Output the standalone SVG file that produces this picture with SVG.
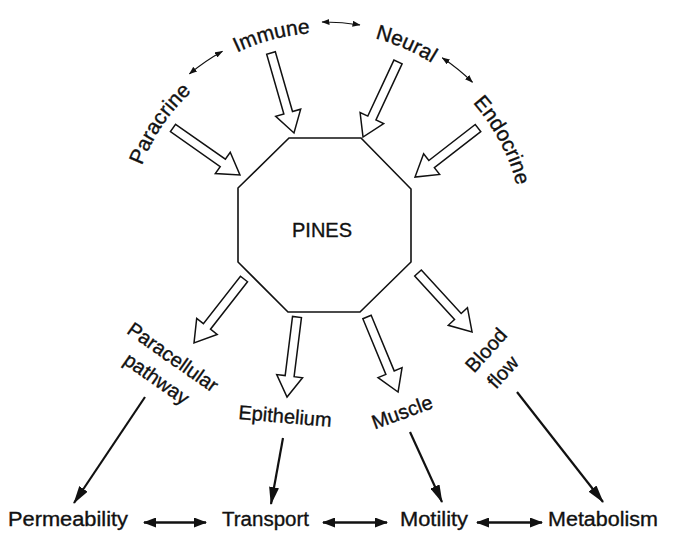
<svg xmlns="http://www.w3.org/2000/svg" width="675" height="536" viewBox="0 0 675 536">
<style>
text{font-family:"Liberation Sans",Arial,sans-serif;fill:#111;stroke:#111;stroke-width:0.35;}
.lbl{font-size:21px;}
.bot{font-size:20px;}
.blk{fill:#fff;stroke:#111;stroke-width:1.5;stroke-linejoin:miter;}
.ln{fill:none;stroke:#111;stroke-width:2.2;}
.dbl{fill:none;stroke:#111;stroke-width:2.6;}
.thin{fill:none;stroke:#111;stroke-width:1.2;}
</style>
<defs>
<marker id="ah" viewBox="0 0 18 10" refX="17" refY="5" markerWidth="18" markerHeight="10" markerUnits="userSpaceOnUse" orient="auto"><path d="M0,0 L18,5 L0,10 Z" fill="#111"/></marker>
<marker id="dh" viewBox="0 0 13 10" refX="12" refY="5" markerWidth="13" markerHeight="10" markerUnits="userSpaceOnUse" orient="auto-start-reverse"><path d="M0,0 L13,5 L0,10 Z" fill="#111"/></marker>
<marker id="sh" viewBox="0 0 8 6" refX="7.5" refY="3" markerWidth="8" markerHeight="6" markerUnits="userSpaceOnUse" orient="auto-start-reverse"><path d="M0,0 L8,3 L0,6 Z" fill="#111"/></marker>
<path id="pParacrine" d="M129,238.1 A195,195 0 0 1 254.4,52.8"/>
<path id="pImmune" d="M169.9,104.3 A202,202 0 0 1 394.1,45.5"/>
<path id="pNeural" d="M282.8,36.2 A203,203 0 0 1 496.7,128.3"/>
<path id="pEndocrine" d="M414.3,57.7 A199,199 0 0 1 521.5,259.3"/>
</defs>
<rect width="675" height="536" fill="#fff"/>

<g id="pines">
<polygon points="289,138 361,138 411,189 411,262 360,312 288,312 238,262 238,188" fill="#fff" stroke="#111" stroke-width="1.6"/>
<text x="322" y="237" font-size="20" text-anchor="middle">PINES</text>
</g>

<g id="paracrine"><text class="lbl" text-anchor="middle"><textPath href="#pParacrine" startOffset="50%">Paracrine</textPath></text></g>
<g id="immune"><text class="lbl" text-anchor="middle"><textPath href="#pImmune" startOffset="50%">Immune</textPath></text></g>
<g id="neural"><text class="lbl" text-anchor="middle"><textPath href="#pNeural" startOffset="50%">Neural</textPath></text></g>
<g id="endocrine"><text class="lbl" text-anchor="middle"><textPath href="#pEndocrine" startOffset="50%">Endocrine</textPath></text></g>

<g id="paracellular" transform="translate(173,357) rotate(35)">
<text class="bot" x="0" y="7" text-anchor="middle">Paracellular</text>
<text class="bot" x="-1" y="34" text-anchor="middle">pathway</text>
</g>
<g id="epithelium"><text class="bot" transform="translate(285,417) rotate(5)" x="0" y="6" text-anchor="middle">Epithelium</text></g>
<g id="muscle"><text class="bot" transform="translate(402,412) rotate(-20)" x="0" y="7" text-anchor="middle">Muscle</text></g>
<g id="bloodflow" transform="translate(486,350) rotate(-48)">
<text class="bot" x="0" y="7" text-anchor="middle">Blood</text>
<text class="bot" x="-5" y="34" text-anchor="middle">flow</text>
</g>

<g id="permeability"><text class="bot" x="8" y="526" textLength="120" lengthAdjust="spacingAndGlyphs">Permeability</text></g>
<g id="transport"><text class="bot" x="222" y="526" textLength="87" lengthAdjust="spacingAndGlyphs">Transport</text></g>
<g id="motility"><text class="bot" x="400" y="526" textLength="68" lengthAdjust="spacingAndGlyphs">Motility</text></g>
<g id="metabolism"><text class="bot" x="548" y="526" textLength="110" lengthAdjust="spacingAndGlyphs">Metabolism</text></g>

<g id="connectors">
<path class="blk" transform="translate(173,128) rotate(35.05)" d="M0,-4.5 L60.8,-4.5 L60.8,-13 L81.8,0 L60.8,13 L60.8,4.5 L0,4.5 Z"/>
<path class="blk" transform="translate(271,53) rotate(73.96)" d="M0,-4.5 L62.2,-4.5 L62.2,-13 L83.2,0 L62.2,13 L62.2,4.5 L0,4.5 Z"/>
<path class="blk" transform="translate(398,62) rotate(115)" d="M0,-4.5 L61.8,-4.5 L61.8,-13 L82.8,0 L61.8,13 L61.8,4.5 L0,4.5 Z"/>
<path class="blk" transform="translate(478,128) rotate(142.1)" d="M0,-4.5 L58.8,-4.5 L58.8,-13 L79.8,0 L58.8,13 L58.8,4.5 L0,4.5 Z"/>
<path class="blk" transform="translate(244,279) rotate(128)" d="M0,-4.5 L60.2,-4.5 L60.2,-13 L81.2,0 L60.2,13 L60.2,4.5 L0,4.5 Z"/>
<path class="blk" transform="translate(297,317) rotate(97.1)" d="M0,-4.5 L59.6,-4.5 L59.6,-13 L80.6,0 L59.6,13 L59.6,4.5 L0,4.5 Z"/>
<path class="blk" transform="translate(367,317) rotate(67.5)" d="M0,-4.5 L60.2,-4.5 L60.2,-13 L81.2,0 L60.2,13 L60.2,4.5 L0,4.5 Z"/>
<path class="blk" transform="translate(418,273) rotate(47.5)" d="M0,-4.5 L59,-4.5 L59,-13 L80,0 L59,13 L59,4.5 L0,4.5 Z"/>

<path class="ln" d="M145,397 L74,503" marker-end="url(#ah)"/>
<path class="ln" d="M283,438 L271,504" marker-end="url(#ah)"/>
<path class="ln" d="M410,432 L442,502" marker-end="url(#ah)"/>
<path class="ln" d="M517,392 L603,502" marker-end="url(#ah)"/>

<path class="dbl" d="M144,522.5 L206,522.5" marker-start="url(#dh)" marker-end="url(#dh)"/>
<path class="dbl" d="M323,522.5 L387,522.5" marker-start="url(#dh)" marker-end="url(#dh)"/>
<path class="dbl" d="M477,522.5 L542,522.5" marker-start="url(#dh)" marker-end="url(#dh)"/>

<path class="thin" d="M189.4,73.9 A210,210 0 0 1 222.5,51.2" marker-start="url(#sh)" marker-end="url(#sh)"/>
<path class="thin" d="M322,22 A213,213 0 0 1 360,25" marker-start="url(#sh)" marker-end="url(#sh)"/>
<path class="thin" d="M442.2,57.8 A213,213 0 0 1 472.5,82.3" marker-start="url(#sh)" marker-end="url(#sh)"/>
</g>
</svg>
